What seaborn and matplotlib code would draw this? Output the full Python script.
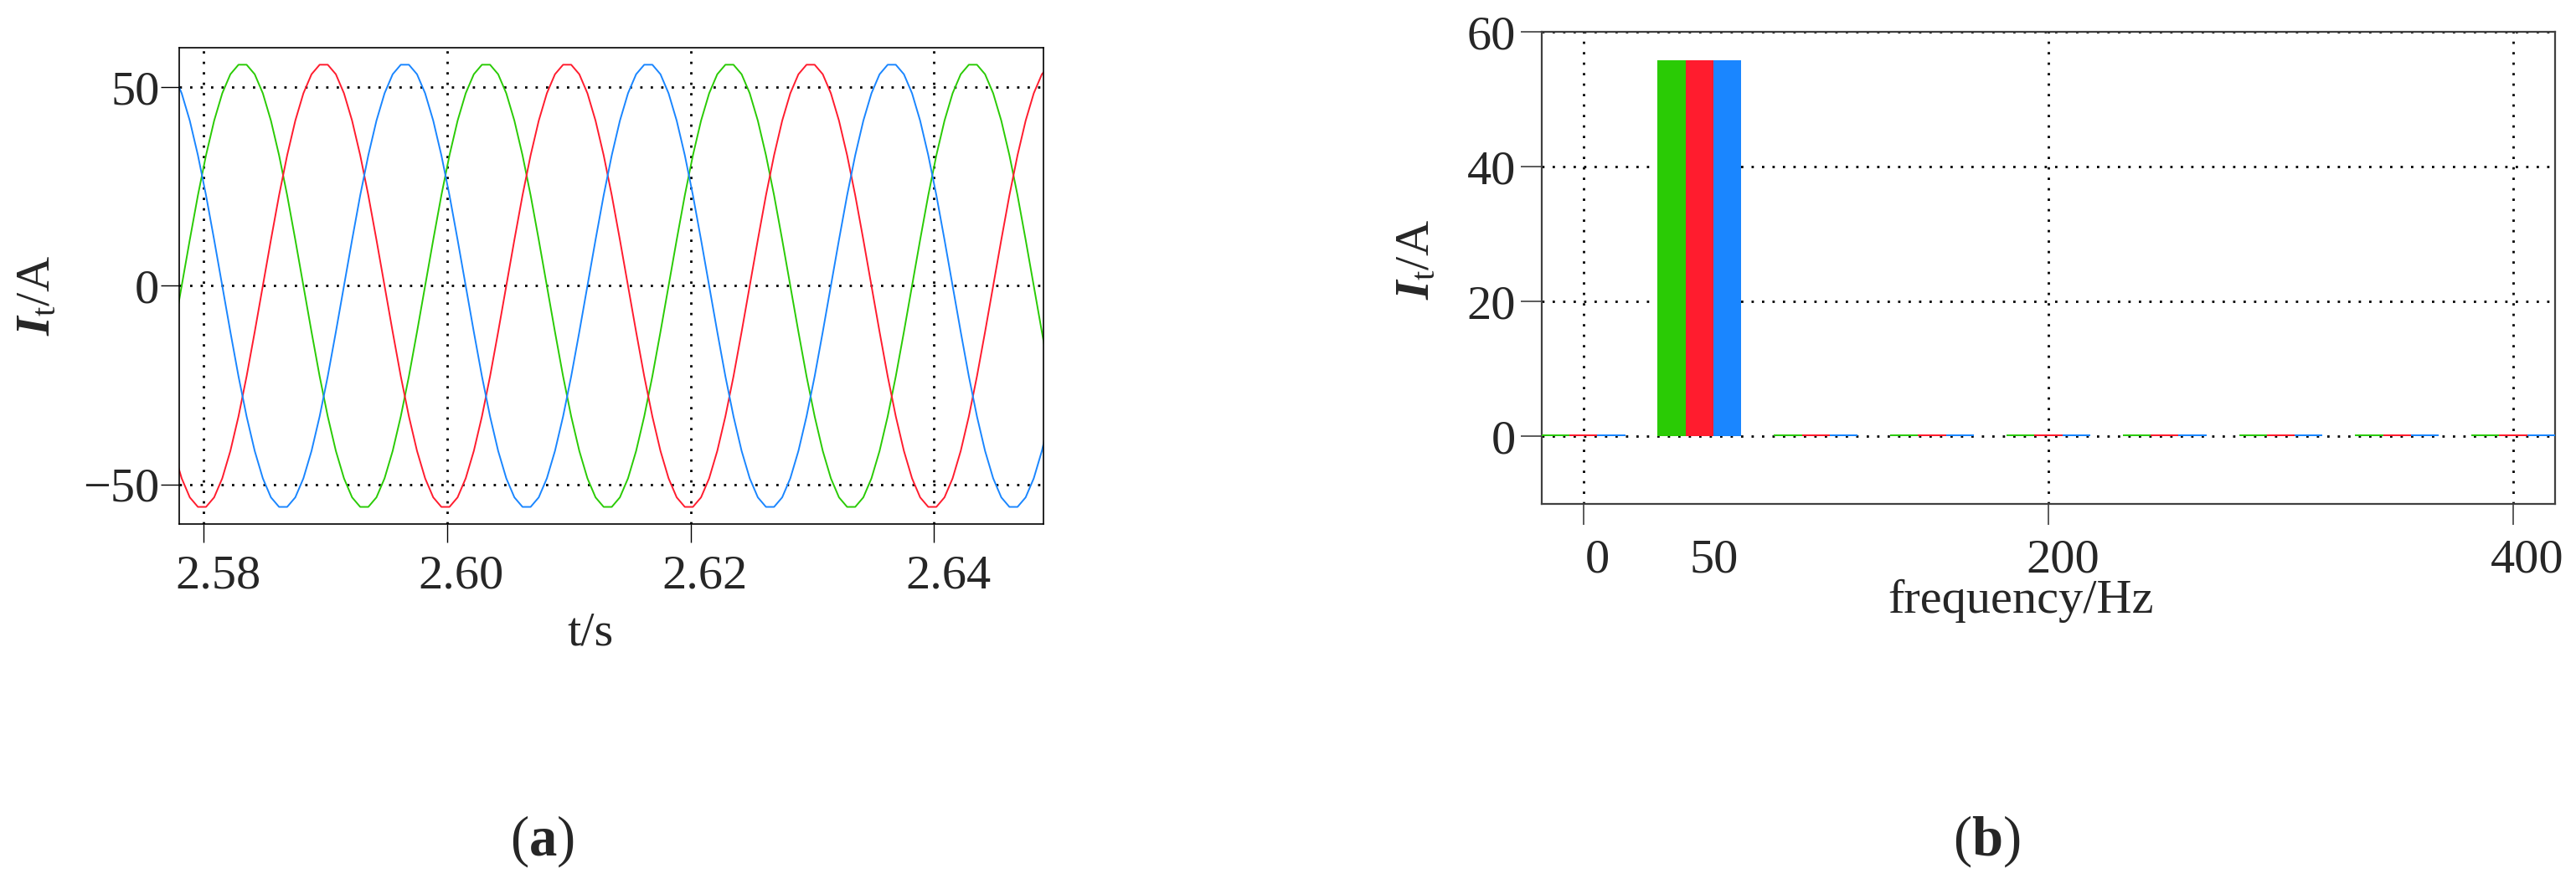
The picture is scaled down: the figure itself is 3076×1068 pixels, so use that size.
import numpy as np
import pandas as pd
import matplotlib
matplotlib.use("Agg")
import matplotlib.pyplot as plt
import matplotlib.transforms as mtransforms
import seaborn as sns

# ---- data ----
# (a) three-phase current samples, one sample every 2/3 ms starting at t_start
t_start = 2.57753
t_step = 0.02 / 30

i_green = [-11.6,
           0, 11.6, 22.8, 32.9, 41.6, 48.5, 53.3, 55.7, 55.7, 53.3, 48.5, 41.6, 32.9, 22.8, 11.6,
           0, -11.6, -22.8, -32.9, -41.6, -48.5, -53.3, -55.7, -55.7, -53.3, -48.5, -41.6, -32.9, -22.8, -11.6,
           0, 11.6, 22.8, 32.9, 41.6, 48.5, 53.3, 55.7, 55.7, 53.3, 48.5, 41.6, 32.9, 22.8, 11.6,
           0, -11.6, -22.8, -32.9, -41.6, -48.5, -53.3, -55.7, -55.7, -53.3, -48.5, -41.6, -32.9, -22.8, -11.6,
           0, 11.6, 22.8, 32.9, 41.6, 48.5, 53.3, 55.7, 55.7, 53.3, 48.5, 41.6, 32.9, 22.8, 11.6,
           0, -11.6, -22.8, -32.9, -41.6, -48.5, -53.3, -55.7, -55.7, -53.3, -48.5, -41.6, -32.9, -22.8, -11.6,
           0, 11.6, 22.8, 32.9, 41.6, 48.5, 53.3, 55.7, 55.7, 53.3, 48.5, 41.6, 32.9, 22.8, 11.6,
           0, -11.6, -22.8]

i_red = [-41.6, -48.5, -53.3, -55.7, -55.7, -53.3, -48.5, -41.6, -32.9, -22.8, -11.6,
         0, 11.6, 22.8, 32.9, 41.6, 48.5, 53.3, 55.7, 55.7, 53.3, 48.5, 41.6, 32.9, 22.8, 11.6,
         0, -11.6, -22.8, -32.9, -41.6, -48.5, -53.3, -55.7, -55.7, -53.3, -48.5, -41.6, -32.9, -22.8, -11.6,
         0, 11.6, 22.8, 32.9, 41.6, 48.5, 53.3, 55.7, 55.7, 53.3, 48.5, 41.6, 32.9, 22.8, 11.6,
         0, -11.6, -22.8, -32.9, -41.6, -48.5, -53.3, -55.7, -55.7, -53.3, -48.5, -41.6, -32.9, -22.8, -11.6,
         0, 11.6, 22.8, 32.9, 41.6, 48.5, 53.3, 55.7, 55.7, 53.3, 48.5, 41.6, 32.9, 22.8, 11.6,
         0, -11.6, -22.8, -32.9, -41.6, -48.5, -53.3, -55.7, -55.7, -53.3, -48.5, -41.6, -32.9, -22.8, -11.6,
         0, 11.6, 22.8, 32.9, 41.6, 48.5, 53.3, 55.7]

i_blue = [53.3, 48.5, 41.6, 32.9, 22.8, 11.6,
          0, -11.6, -22.8, -32.9, -41.6, -48.5, -53.3, -55.7, -55.7, -53.3, -48.5, -41.6, -32.9, -22.8, -11.6,
          0, 11.6, 22.8, 32.9, 41.6, 48.5, 53.3, 55.7, 55.7, 53.3, 48.5, 41.6, 32.9, 22.8, 11.6,
          0, -11.6, -22.8, -32.9, -41.6, -48.5, -53.3, -55.7, -55.7, -53.3, -48.5, -41.6, -32.9, -22.8, -11.6,
          0, 11.6, 22.8, 32.9, 41.6, 48.5, 53.3, 55.7, 55.7, 53.3, 48.5, 41.6, 32.9, 22.8, 11.6,
          0, -11.6, -22.8, -32.9, -41.6, -48.5, -53.3, -55.7, -55.7, -53.3, -48.5, -41.6, -32.9, -22.8, -11.6,
          0, 11.6, 22.8, 32.9, 41.6, 48.5, 53.3, 55.7, 55.7, 53.3, 48.5, 41.6, 32.9, 22.8, 11.6,
          0, -11.6, -22.8, -32.9, -41.6, -48.5, -53.3, -55.7, -55.7, -53.3, -48.5, -41.6, -32.9]

t_ticks = [2.58, 2.60, 2.62, 2.64]
t_ticklabels = ["2.58", "2.60", "2.62", "2.64"]
i_ticks = [-50, 0, 50]

# (b) spectrum
harmonic_hz = [0, 50, 100, 150, 200, 250, 300, 350, 400]
spec_green = [0.3, 55.8, 0.3, 0.3, 0.3, 0.3, 0.3, 0.3, 0.3]
spec_red = [0.3, 55.8, 0.3, 0.3, 0.3, 0.3, 0.3, 0.3, 0.3]
spec_blue = [0.3, 55.8, 0.3, 0.3, 0.3, 0.3, 0.3, 0.3, 0.3]
f_ticks = [0, 200, 400]
spec_yticks = [0, 20, 40, 60]

phase_names = ["a", "b", "c"]
phase_colors = ["#2ACB05", "#FF1C2E", "#1A86FF"]

# ---- style ----
sns.set_style("white")
plt.rcParams["font.family"] = ["Liberation Serif", "DejaVu Serif"]
plt.rcParams["mathtext.fontset"] = "custom"
plt.rcParams["mathtext.rm"] = "Liberation Serif"
plt.rcParams["mathtext.it"] = "Liberation Serif:italic:bold"
plt.rcParams["mathtext.bf"] = "Liberation Serif:bold"

FS = 42
grid_kw = dict(color="black", linestyle=(0, (1, 3.5)), linewidth=2.0)

fig = plt.figure(figsize=(30.76, 10.68), dpi=100)
ax1 = fig.add_axes([0.0696, 0.4139, 0.3355, 0.5328])
ax2 = fig.add_axes([0.5984, 0.4363, 0.3935, 0.5281])

# ---- (a) waveforms ----
t = t_start + t_step * np.arange(len(i_green))
for y, c in zip([i_green, i_red, i_blue], phase_colors):
    sns.lineplot(x=t, y=y, color=c, linewidth=1.4, ax=ax1)

ax1.set_xlim(2.578, 2.649)
ax1.set_ylim(-60, 60)
ax1.set_xticks(t_ticks, labels=t_ticklabels)
ax1.set_yticks(i_ticks)
ax1.grid(True, **grid_kw)
ax1.tick_params(axis="both", direction="out", length=16, width=1.0, color="black",
                labelsize=FS, bottom=True, left=True)
ax1.tick_params(axis="x", pad=10)
ax1.tick_params(axis="y", pad=1)
for s in ax1.spines.values():
    s.set_color("black")
    s.set_linewidth(1.2)
ax1.set_xlabel("t/s", fontsize=FS, va="center")
ax1.xaxis.set_label_coords(0.476, -0.230)
ax1.set_ylabel(r"$I_\mathrm{t}$/A", fontsize=FS, va="center")
ax1.yaxis.set_label_coords(-0.164, 0.48)

# ---- (b) spectrum ----
spec = pd.DataFrame({
    "freq": harmonic_hz * 3,
    "phase": [p for p in phase_names for _ in harmonic_hz],
    "amp": spec_green + spec_red + spec_blue,
})
sns.barplot(data=spec, x="freq", y="amp", hue="phase", hue_order=phase_names,
            palette=phase_colors, saturation=1, native_scale=True, width=0.72, gap=0,
            linewidth=0, errorbar=None, legend=False, ax=ax2, zorder=3)

ax2.set_xlim(-18, 418)
ax2.set_ylim(-10, 60)
ax2.set_xticks(f_ticks, labels=["0", "200", "400"])
ax2.set_xticks([50], labels=["50"], minor=True)
ax2.set_yticks(spec_yticks)
ax2.grid(True, which="major", **grid_kw)
ax2.set_axisbelow(True)
ax2.tick_params(axis="both", which="major", direction="out", length=18, width=1.2,
                color="#404040", labelsize=FS, bottom=True, left=True)
ax2.tick_params(axis="x", which="major", pad=12)
ax2.tick_params(axis="y", which="major", pad=4)
ax2.tick_params(axis="x", which="minor", length=0, pad=12 + 18, labelsize=FS, bottom=True)
for s in ax2.spines.values():
    s.set_color("#404040")
    s.set_linewidth(1.6)
ax2.set_xlabel("frequency/Hz", fontsize=FS, va="center")
ax2.xaxis.set_label_coords(0.473, -0.206)
ax2.set_ylabel(r"$I_\mathrm{t}$/A", fontsize=FS, va="center")
ax2.yaxis.set_label_coords(-0.123, 0.518)

# tick labels in the original sit a little right of their ticks
shift = mtransforms.ScaledTranslation(0.17, 0, fig.dpi_scale_trans)
for ax in (ax1, ax2):
    for lab in ax.get_xticklabels(which="both"):
        lab.set_transform(lab.get_transform() + shift)

# ---- panel captions ----
fig.text(647 / 3076, 1 - 1005 / 1068, r"($\mathbf{a}$)", ha="center", va="center", fontsize=48)
fig.text(2372 / 3076, 1 - 1005 / 1068, r"($\mathbf{b}$)", ha="center", va="center", fontsize=48)

fig.savefig("out.png", dpi=100, facecolor="white")
